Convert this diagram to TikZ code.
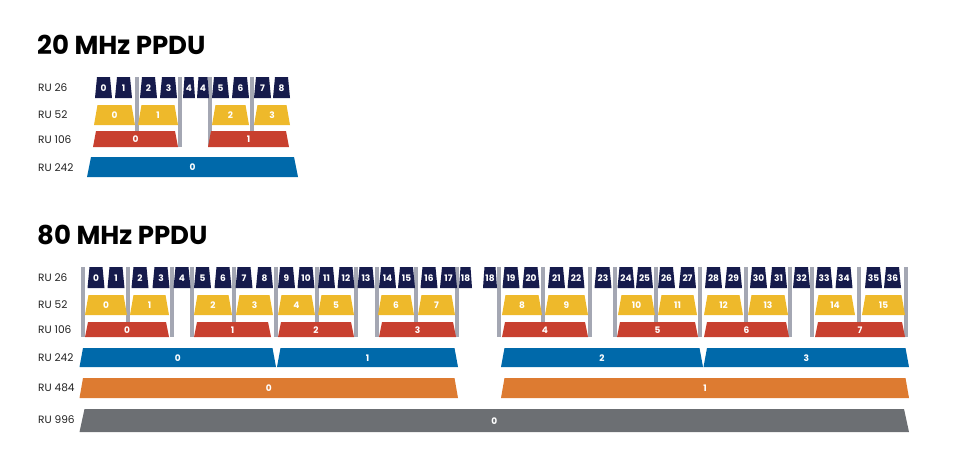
\documentclass[tikz,border=0pt]{standalone}
\usepackage{fontspec}
\setmainfont{Poppins}
\usepackage{tikz}

\definecolor{runavy}{HTML}{161B4C}
\definecolor{ruyellow}{HTML}{EEB92B}
\definecolor{rured}{HTML}{C8402F}
\definecolor{rublue}{HTML}{0069AA}
\definecolor{ruorange}{HTML}{DD7B31}
\definecolor{rugray}{HTML}{6C6F73}
\definecolor{bargray}{HTML}{A4A7B3}
\definecolor{labelgray}{HTML}{222222}

\tikzset{
  ptitle/.style={font=\bfseries\fontsize{26}{29}\selectfont, text=black, anchor=base west, inner sep=0pt},
  rulabel/.style={font=\fontsize{10.6}{11}\selectfont, text=labelgray, anchor=west, inner sep=0pt},
  runum/.style={font=\bfseries\fontsize{9}{9}\selectfont, text=white, inner sep=0pt},
  gapbar/.style={fill=bargray},
}

% #1 name, #2 colour, #3 left, #4 right, #5 top, #6 bottom, #7 slant, #8 text
\newcommand{\rutile}[8]{%
  \fill[#2] ({#3+#7},#5) -- ({#4-#7},#5) -- (#4,#6) -- (#3,#6) -- cycle;
  \node[runum] (#1) at ({(#3+#4)/2},{(#5+#6)/2+0.5}) {#8};
}

\begin{document}
\begin{tikzpicture}[x=1pt, y=-1pt]
\useasboundingbox (0,0) rectangle (965,450);

%% 20 MHz
\node[ptitle] (title20) at (37,54) {20 MHz PPDU};
\foreach \yl/\t in {88/26, 115/52, 140/106, 168/242}
  \node[rulabel] (lab20-\t) at (38,\yl) {RU \t};

% bars
\foreach \xb/\yb in {137/131, 180/147, 210/147, 252/131}
  \fill[gapbar] (\xb-1.6,77) rectangle (\xb+1.6,\yb);

% RU 26
\foreach \xc/\t in {103.5/0, 123.5/1, 148.5/2, 168.5/3, 220.5/5, 240.5/6, 262.5/7, 281.5/8}
  {\rutile{a26-\t}{runavy}{\xc-8.5}{\xc+8.5}{77}{98}{2}{\t}}
\rutile{a26-4l}{runavy}{183}{195}{77}{98}{1.5}{4}
\rutile{a26-4r}{runavy}{197}{209}{77}{98}{1.5}{4}

% RU 52
\foreach \xa/\xz/\t in {94/135/0, 138/178/1, 212/249/2, 254/290/3}
  {\rutile{a52-\t}{ruyellow}{\xa}{\xz}{105}{125}{3.5}{\t}}

% RU 106
\foreach \xa/\xz/\t in {93/178/0, 208/289/1}
  {\rutile{a106-\t}{rured}{\xa}{\xz}{131}{147}{3}{\t}}

% RU 242
\rutile{a242-0}{rublue}{87}{298}{157}{177}{4}{0}

%% 80 MHz
\node[ptitle] (title80) at (37,244) {80 MHz PPDU};
\foreach \yl/\t in {278/26, 305/52, 330/106, 358/242, 388/484, 420/996}
  \node[rulabel] (lab80-\t) at (38,\yl) {RU \t};

% bars
\foreach \xb/\yb in {83/337, 128/322, 172/337, 192/337, 234/322, 276/337,
                     317/322, 356/337, 377/337, 416/322, 457/337, 499/337,
                     543/322, 590/337, 615/337, 656/322, 700/337, 746/322,
                     790/337, 812/337, 859/322, 906/337}
  \fill[gapbar] (\xb-1.6,267) rectangle (\xb+1.6,\yb);

% RU 26
\foreach \xc/\t in {96/0, 116/1, 140/2, 161/3, 182/4, 202.5/5, 223/6, 244/7,
                    264.5/8, 286.5/9, 306/10, 326.5/11, 346/12, 366/13, 387.5/14,
                    406.5/15, 429/16, 448.5/17, 511/19, 531/20, 556.5/21, 576/22,
                    603/23, 626/24, 644.5/25, 666.5/26, 687.5/27, 713.5/28,
                    733.5/29, 758.5/30, 778.5/31, 801.5/32, 824/33, 844/34,
                    873.5/35, 892.5/36}
  {\rutile{b26-\t}{runavy}{\xc-8.5}{\xc+8.5}{267}{288}{2}{\t}}
\rutile{b26-18l}{runavy}{459}{472}{267}{288}{1.5}{18}
\rutile{b26-18r}{runavy}{483}{497}{267}{288}{1.5}{18}

% RU 52
\foreach \xa/\xz/\t in {85/127/0, 130/169/1, 194/232/2, 236/273/3, 278/315/4,
                        318/354/5, 378/414/6, 418/455/7, 502/542/8, 545/588/9,
                        618/655/10, 658/697/11, 704/743/12, 748/788/13,
                        815/855/14, 862/905/15}
  {\rutile{b52-\t}{ruyellow}{\xa}{\xz}{295}{315}{3.5}{\t}}

% RU 106
\foreach \xa/\xz/\t in {85/169/0, 194/271/1, 278/354/2, 379/456/3, 502/588/4,
                        617/698/5, 704/789/6, 815/905/7}
  {\rutile{b106-\t}{rured}{\xa}{\xz}{322}{337}{3}{\t}}

% RU 242
\foreach \xa/\xz/\t in {79.5/276/0, 277/458/1, 501/703/2, 703.5/909/3}
  {\rutile{b242-\t}{rublue}{\xa}{\xz}{348}{367}{3.5}{\t}}

% RU 484
\foreach \xa/\xz/\t in {79.5/458/0, 501/909/1}
  {\rutile{b484-\t}{ruorange}{\xa}{\xz}{378}{398}{3.5}{\t}}

% RU 996
\rutile{b996-0}{rugray}{79.5}{909}{409}{432}{5}{0}

\end{tikzpicture}
\end{document}
